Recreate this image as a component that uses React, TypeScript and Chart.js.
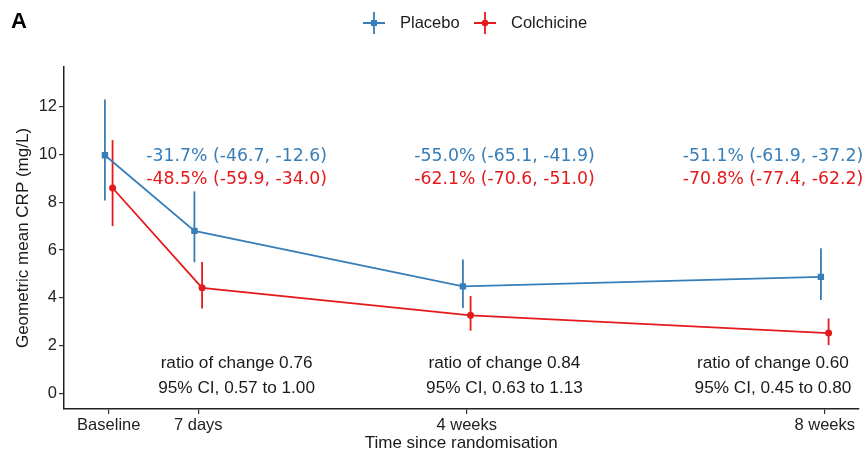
import React, { useEffect, useRef } from "react";
import { Chart, registerables } from "chart.js";

Chart.register(...registerables);

const timeDays = [0, 7, 28, 56];
const tickLabels = ["Baseline", "7 days", "4 weeks", "8 weeks"];
const yTicks = [0, 2, 4, 6, 8, 10, 12];

const placeboMean = [9.96, 6.8, 4.48, 4.88];
const placeboLow = [8.07, 5.49, 3.58, 3.91];
const placeboHigh = [12.29, 8.45, 5.6, 6.07];

const colchMean = [8.59, 4.42, 3.27, 2.53];
const colchLow = [7.0, 3.56, 2.63, 2.03];
const colchHigh = [10.59, 5.5, 4.08, 3.14];

const annotDays = [10.0, 30.95, 51.95];
const placeboPct = ["-31.7% (-46.7, -12.6)", "-55.0% (-65.1, -41.9)", "-51.1% (-61.9, -37.2)"];
const colchPct = ["-48.5% (-59.9, -34.0)", "-62.1% (-70.6, -51.0)", "-70.8% (-77.4, -62.2)"];
const ratioText = ["ratio of change 0.76", "ratio of change 0.84", "ratio of change 0.60"];
const ciText = ["95% CI, 0.57 to 1.00", "95% CI, 0.63 to 1.13", "95% CI, 0.45 to 0.80"];
const annotY = { placebo: 9.9, colch: 8.95, ratio: 1.25, ci: 0.22 };

const dodge = 0.3;
const BLUE = "#377EB8";
const RED = "#E41A1C";
const SANS = "'Liberation Sans', Arial, sans-serif";
const DEJAVU = "'DejaVu Sans', sans-serif";

const errorBarPlugin = {
  id: "errorBars",
  beforeDatasetsDraw(chart: any) {
    const { ctx } = chart;
    const xs = chart.scales.x;
    const ys = chart.scales.y;
    chart.data.datasets.forEach((ds: any) => {
      ctx.save();
      ctx.strokeStyle = ds.borderColor;
      ctx.lineWidth = 1.8;
      ds.data.forEach((p: any, i: number) => {
        const x = xs.getPixelForValue(p.x);
        ctx.beginPath();
        ctx.moveTo(x, ys.getPixelForValue(ds.yLow[i]));
        ctx.lineTo(x, ys.getPixelForValue(ds.yHigh[i]));
        ctx.stroke();
      });
      ctx.restore();
    });
  },
};

const annotationPlugin = {
  id: "annots",
  afterDraw(chart: any) {
    const { ctx } = chart;
    const xs = chart.scales.x;
    const ys = chart.scales.y;
    ctx.save();
    ctx.textAlign = "center";
    ctx.textBaseline = "middle";
    annotDays.forEach((d, i) => {
      const x = xs.getPixelForValue(d);
      ctx.font = `17.3px ${DEJAVU}`;
      ctx.fillStyle = BLUE;
      ctx.fillText(placeboPct[i], x, ys.getPixelForValue(annotY.placebo));
      ctx.fillStyle = RED;
      ctx.fillText(colchPct[i], x, ys.getPixelForValue(annotY.colch));
      ctx.font = `17.2px ${SANS}`;
      ctx.fillStyle = "#1a1a1a";
      ctx.fillText(ratioText[i], x, ys.getPixelForValue(annotY.ratio));
      ctx.fillText(ciText[i], x, ys.getPixelForValue(annotY.ci));
    });

    // panel tag
    ctx.textAlign = "left";
    ctx.textBaseline = "alphabetic";
    ctx.font = `bold 22px ${SANS}`;
    ctx.fillStyle = "#000";
    ctx.fillText("A", 11, 28);

    // legend
    const items = chart.data.datasets.map((ds: any) => ({
      label: ds.label,
      color: ds.borderColor,
      style: ds.pointStyle,
    }));
    const cy = 23;
    const starts = [374, 485];
    ctx.font = `16.5px ${SANS}`;
    ctx.textBaseline = "middle";
    items.forEach((it: any, i: number) => {
      const cx = starts[i];
      ctx.strokeStyle = it.color;
      ctx.fillStyle = it.color;
      ctx.lineWidth = 1.8;
      ctx.beginPath();
      ctx.moveTo(cx - 11, cy);
      ctx.lineTo(cx + 11, cy);
      ctx.moveTo(cx, cy - 11);
      ctx.lineTo(cx, cy + 11);
      ctx.stroke();
      if (it.style === "rect") {
        ctx.fillRect(cx - 3, cy - 3, 6, 6);
      } else {
        ctx.beginPath();
        ctx.arc(cx, cy, 3.3, 0, Math.PI * 2);
        ctx.fill();
      }
      ctx.fillStyle = "#1a1a1a";
      ctx.fillText(it.label, cx + 26, cy);
    });
    ctx.restore();
  },
};

export default function App() {
  const ref = useRef<HTMLCanvasElement | null>(null);

  useEffect(() => {
    document.body.style.margin = "0";
    if (!ref.current) return;
    const chart = new Chart(ref.current, {
      type: "line",
      data: {
        datasets: [
          {
            label: "Placebo",
            data: timeDays.map((d, i) => ({ x: d - dodge, y: placeboMean[i] })),
            yLow: placeboLow,
            yHigh: placeboHigh,
            borderColor: BLUE,
            backgroundColor: BLUE,
            borderWidth: 1.8,
            pointStyle: "rect",
            pointRadius: 4.5,
            pointBorderWidth: 0,
            tension: 0,
          } as any,
          {
            label: "Colchicine",
            data: timeDays.map((d, i) => ({ x: d + dodge, y: colchMean[i] })),
            yLow: colchLow,
            yHigh: colchHigh,
            borderColor: RED,
            backgroundColor: RED,
            borderWidth: 1.8,
            pointStyle: "circle",
            pointRadius: 3.5,
            pointBorderWidth: 0,
            tension: 0,
          } as any,
        ],
      },
      options: {
        animation: false,
        responsive: false,
        devicePixelRatio: 1,
        layout: { padding: { top: 67, left: 0, right: 0, bottom: 0 } },
        plugins: {
          legend: { display: false },
          tooltip: { enabled: false },
        },
        scales: {
          x: {
            type: "linear",
            min: -3.5,
            max: 58.64,
            afterBuildTicks: (s: any) => {
              s.ticks = timeDays.map((v) => ({ value: v }));
            },
            afterFit: (s: any) => {
              s.height = 48;
            },
            ticks: {
              autoSkip: false,
              maxRotation: 0,
              padding: 2,
              color: "#222",
              font: { family: SANS, size: 16.5 },
              callback: (v: any) => tickLabels[timeDays.indexOf(Number(v))] ?? "",
            },
            grid: { drawOnChartArea: false, drawTicks: true, tickLength: 5, color: "#333", lineWidth: 1.2 },
            border: { display: true, color: "#222", width: 1.5 },
            title: {
              display: true,
              text: "Time since randomisation",
              color: "#1a1a1a",
              font: { family: SANS, size: 17, lineHeight: 1 },
              padding: { top: 0, bottom: 5 },
            },
          },
          y: {
            type: "linear",
            min: -0.641,
            max: 13.645,
            afterBuildTicks: (s: any) => {
              s.ticks = yTicks.map((v) => ({ value: v }));
            },
            afterFit: (s: any) => {
              s.width = 64;
            },
            ticks: {
              padding: 2,
              color: "#222",
              font: { family: SANS, size: 16.5 },
            },
            grid: { drawOnChartArea: false, drawTicks: true, tickLength: 5, color: "#333", lineWidth: 1.2 },
            border: { display: true, color: "#222", width: 1.5 },
            title: {
              display: true,
              text: "Geometric mean CRP (mg/L)",
              color: "#1a1a1a",
              font: { family: SANS, size: 17, lineHeight: 1 },
              padding: { top: 15, bottom: 0 },
            },
          },
        },
      },
      plugins: [errorBarPlugin, annotationPlugin],
    } as any);
    return () => chart.destroy();
  }, []);

  return (
    <div style={{ width: 863, height: 457 }}>
      <canvas ref={ref} width={863} height={457} style={{ display: "block", width: 863, height: 457 }} />
    </div>
  );
}
